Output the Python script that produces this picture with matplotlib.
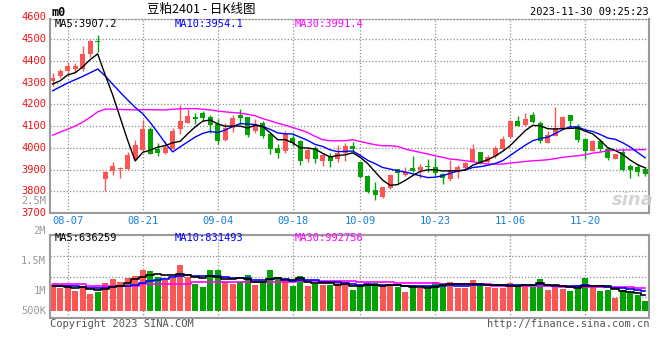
import matplotlib
matplotlib.use("Agg")
import matplotlib.pyplot as plt
import numpy as np

# trading days shown on the chart
dates = ["08-03", "08-04",
         "08-07", "08-08", "08-09", "08-10", "08-11",
         "08-14", "08-15", "08-16", "08-17", "08-18",
         "08-21", "08-22", "08-23", "08-24", "08-25",
         "08-28", "08-29", "08-30", "08-31", "09-01",
         "09-04", "09-05", "09-06", "09-07", "09-08",
         "09-11", "09-12", "09-13", "09-14", "09-15",
         "09-18", "09-19", "09-20", "09-21", "09-22",
         "09-25", "09-26", "09-27", "09-28",
         "10-09", "10-10", "10-11", "10-12", "10-13",
         "10-16", "10-17", "10-18", "10-19", "10-20",
         "10-23", "10-24", "10-25", "10-26", "10-27",
         "10-30", "10-31", "11-01", "11-02", "11-03",
         "11-06", "11-07", "11-08", "11-09", "11-10",
         "11-13", "11-14", "11-15", "11-16", "11-17",
         "11-20", "11-21", "11-22", "11-23", "11-24",
         "11-27", "11-28", "11-29", "11-30"]
date_labels = ["08-07", "08-21", "09-04", "09-18", "10-09", "10-23", "11-06", "11-20"]

opens = [4305, 4332, 4351, 4364, 4363, 4430, 4489, 3858, 3893, 3903,
         3901, 3947, 3988, 4087, 3993, 3975, 3994, 4085, 4116, 4140,
         4160, 4140, 4108, 4035, 4089, 4150, 4140, 4078, 4113, 4063,
         3998, 3986, 4043, 4031, 3948, 3998, 3940, 3960, 3948, 3976,
         4006, 3933, 3872, 3806, 3773, 3815, 3902, 3875, 3905, 3899,
         3918, 3911, 3879, 3857, 3887, 3907, 3940, 3982, 3936, 3960,
         3994, 4050, 4124, 4104, 4150, 4116, 4024, 4055, 4089, 4150,
         4101, 4040, 3986, 4029, 3994, 3948, 3982, 3915, 3911, 3902]
highs = [4343, 4363, 4393, 4389, 4470, 4497, 4518, 3893, 3935, 3913,
         3982, 4034, 4126, 4095, 4022, 4029, 4093, 4195, 4177, 4159,
         4169, 4150, 4131, 4113, 4150, 4177, 4140, 4134, 4124, 4070,
         4017, 4075, 4070, 4035, 4002, 4009, 3976, 3976, 4012, 4021,
         4027, 3935, 3875, 3841, 3821, 3879, 3904, 3913, 3960, 3925,
         3948, 3953, 3882, 3944, 3921, 3933, 4017, 3982, 3966, 4009,
         4052, 4126, 4147, 4159, 4165, 4125, 4078, 4189, 4147, 4150,
         4108, 4040, 4037, 4040, 4002, 3971, 3994, 3925, 3925, 3910]
lows = [4282, 4320, 4335, 4348, 4354, 4415, 4442, 3800, 3875, 3863,
        3899, 3942, 3985, 3970, 3960, 3972, 3994, 4063, 4113, 4108,
        4124, 4070, 4017, 4032, 4073, 4108, 4050, 4066, 4043, 3971,
        3951, 3977, 4009, 3922, 3933, 3930, 3915, 3910, 3936, 3940,
        3986, 3860, 3792, 3762, 3769, 3811, 3838, 3869, 3887, 3860,
        3890, 3872, 3834, 3849, 3861, 3902, 3937, 3924, 3930, 3951,
        3989, 4047, 4101, 4101, 4116, 4021, 4024, 4052, 4089, 4096,
        4027, 3948, 3986, 3986, 3944, 3948, 3895, 3861, 3869, 3869]
closes = [4323, 4354, 4377, 4375, 4430, 4491, 4486, 3889, 3918, 3907,
          3968, 4014, 4087, 3970, 3974, 4005, 4078, 4121, 4144, 4131,
          4137, 4105, 4032, 4089, 4136, 4136, 4060, 4098, 4055, 3995,
          3976, 4063, 4024, 3940, 3991, 3948, 3968, 3940, 3976, 4006,
          3994, 3864, 3795, 3783, 3818, 3875, 3884, 3889, 3895, 3913,
          3911, 3884, 3863, 3898, 3913, 3930, 3994, 3928, 3959, 3998,
          4040, 4124, 4101, 4131, 4119, 4029, 4058, 4093, 4142, 4124,
          4035, 3986, 4032, 3994, 3953, 3971, 3899, 3899, 3887, 3881]

ma5 = [4293, 4308, 4335, 4345, 4371.8, 4405.4, 4431.8, 4334.2, 4242.8, 4138.2,
       4033.6, 3939.2, 3978.8, 3989.2, 4002.6, 4010, 4022.8, 4029.6, 4064.4, 4095.8,
       4122.2, 4127.6, 4109.8, 4098.8, 4099.8, 4099.6, 4090.6, 4103.8, 4097, 4068.8,
       4036.8, 4037.4, 4022.6, 3999.6, 3998.8, 3993.2, 3974.2, 3957.4, 3964.6, 3967.6,
       3976.8, 3956, 3927, 3888.4, 3850.8, 3827, 3831, 3849.8, 3872.2, 3891.2,
       3898.4, 3898.4, 3893.2, 3893.8, 3893.8, 3897.6, 3919.6, 3932.6, 3944.8, 3961.8,
       3983.8, 4009.8, 4044.4, 4078.8, 4103, 4100.8, 4087.6, 4086, 4088.2, 4089.2,
       4090.4, 4076, 4063.8, 4034.2, 4000, 3987.2, 3969.8, 3943.2, 3921.8, 3907.4]
ma10 = [4262, 4280, 4298, 4313, 4328, 4345, 4362, 4330, 4292, 4255,
        4219.5, 4185.5, 4156.5, 4116, 4070.4, 4021.8, 3981, 4004.2, 4026.8, 4049.2,
        4066.1, 4075.2, 4069.7, 4081.6, 4097.8, 4110.9, 4109.1, 4106.8, 4097.9, 4084.3,
        4068.2, 4064, 4063.2, 4048.3, 4033.8, 4015, 4005.8, 3990, 3982.1, 3983.2,
        3985, 3965.1, 3942.2, 3926.5, 3909.2, 3901.9, 3893.5, 3888.4, 3880.3, 3871,
        3862.7, 3864.7, 3871.5, 3883, 3892.5, 3898, 3909, 3912.9, 3919.3, 3927.8,
        3940.7, 3964.7, 3988.5, 4011.8, 4032.4, 4042.3, 4048.7, 4065.2, 4083.5, 4096.1,
        4095.6, 4081.8, 4074.9, 4061.2, 4044.6, 4038.8, 4022.9, 4003.5, 3978, 3953.7]
ma30 = [4058, 4072, 4085, 4100, 4118, 4140, 4165, 4178, 4177, 4176,
        4175, 4174, 4175, 4175, 4174, 4174, 4177, 4179, 4180, 4180,
        4177, 4174, 4169, 4165, 4162, 4159, 4154, 4147, 4134, 4124,
        4113, 4104, 4093, 4082, 4070, 4052, 4037, 4032, 4032, 4032,
        4037, 4029, 4021, 4014, 4009, 4009, 4006, 3994, 3986, 3979,
        3971, 3963, 3956, 3948, 3945, 3940, 3936, 3930, 3925, 3925,
        3925, 3930, 3933, 3937, 3940, 3942, 3945, 3950, 3956, 3960,
        3963, 3968, 3975, 3980, 3986, 3988, 3990, 3990, 3991, 3991.4]

# volume, in millions of the panel's own scale
volume = [1.111, 1.050, 1.089, 1.000, 1.067, 0.944, 0.983, 1.133, 1.194, 1.150,
          1.211, 1.250, 1.344, 1.328, 1.233, 1.178, 1.211, 1.428, 1.233, 1.111,
          1.067, 1.344, 1.344, 1.150, 1.111, 1.139, 1.261, 1.094, 1.139, 1.344,
          1.189, 1.161, 1.078, 1.250, 1.078, 1.111, 1.089, 1.094, 1.122, 1.111,
          1.011, 1.078, 1.111, 1.133, 1.078, 1.111, 1.067, 0.983, 1.089, 1.039,
          1.078, 1.150, 1.133, 1.150, 1.050, 1.050, 1.178, 1.111, 1.067, 1.050,
          1.050, 1.133, 1.094, 1.111, 1.067, 1.194, 1.011, 1.067, 1.028, 1.000,
          1.094, 1.217, 1.067, 1.000, 1.011, 0.883, 1.011, 0.983, 0.928, 0.828]
vol_ma5 = [1.083, 1.078, 1.067, 1.050, 1.063, 1.030, 1.017, 1.025, 1.064, 1.081,
           1.134, 1.188, 1.230, 1.257, 1.273, 1.267, 1.259, 1.276, 1.257, 1.232,
           1.210, 1.237, 1.220, 1.203, 1.203, 1.218, 1.201, 1.151, 1.149, 1.195,
           1.205, 1.185, 1.182, 1.204, 1.151, 1.136, 1.121, 1.124, 1.099, 1.105,
           1.085, 1.083, 1.087, 1.089, 1.082, 1.102, 1.100, 1.074, 1.066, 1.058,
           1.051, 1.068, 1.098, 1.110, 1.112, 1.107, 1.112, 1.108, 1.091, 1.091,
           1.091, 1.082, 1.079, 1.088, 1.091, 1.120, 1.095, 1.090, 1.073, 1.060,
           1.040, 1.081, 1.081, 1.076, 1.078, 1.036, 0.994, 0.978, 0.963, 0.927]
vol_ma10 = [1.085, 1.083, 1.080, 1.075, 1.060, 1.045, 1.040, 1.045, 1.060, 1.072,
            1.082, 1.102, 1.128, 1.160, 1.177, 1.200, 1.223, 1.253, 1.257, 1.253,
            1.238, 1.248, 1.248, 1.230, 1.218, 1.214, 1.219, 1.185, 1.176, 1.199,
            1.212, 1.193, 1.167, 1.177, 1.173, 1.171, 1.153, 1.153, 1.152, 1.128,
            1.111, 1.102, 1.106, 1.094, 1.094, 1.094, 1.092, 1.081, 1.077, 1.070,
            1.077, 1.084, 1.086, 1.088, 1.085, 1.079, 1.090, 1.103, 1.101, 1.102,
            1.099, 1.097, 1.093, 1.089, 1.091, 1.106, 1.089, 1.084, 1.081, 1.076,
            1.080, 1.088, 1.086, 1.075, 1.069, 1.038, 1.038, 1.029, 1.019, 1.002]
vol_ma30 = [1.111, 1.111, 1.111, 1.111, 1.111, 1.083, 1.083, 1.083, 1.083, 1.083,
            1.083, 1.083, 1.111, 1.111, 1.111, 1.111, 1.111, 1.111, 1.111, 1.139,
            1.139, 1.139, 1.139, 1.139, 1.139, 1.139, 1.139, 1.150, 1.150, 1.150,
            1.150, 1.150, 1.150, 1.167, 1.167, 1.167, 1.167, 1.167, 1.167, 1.167,
            1.167, 1.150, 1.150, 1.150, 1.150, 1.150, 1.122, 1.122, 1.122, 1.122,
            1.122, 1.122, 1.106, 1.106, 1.106, 1.106, 1.106, 1.106, 1.106, 1.078,
            1.078, 1.078, 1.078, 1.078, 1.078, 1.078, 1.078, 1.078, 1.067, 1.067,
            1.067, 1.067, 1.067, 1.067, 1.067, 1.067, 1.067, 1.067, 1.050, 1.039]

price_ticks = [3700, 3800, 3900, 4000, 4100, 4200, 4300, 4400, 4500, 4600]
vol_ticks = [(2.0, "2M"), (1.5, "1.5M"), (1.0, "1M")]

RED = "#fa5656"
GREEN = "#02a302"
GRID = "#8e8e8e"
FRAME = "#9a9a9a"
DOTS = (0, (1, 1.6))
MONO = "DejaVu Sans Mono"
CJK = ["Noto Sans CJK SC", "DejaVu Sans"]

W, H = 660, 360
fig = plt.figure(figsize=(W / 100, H / 100), dpi=100)


def box(x0, y0, x1, y1):
    # pixel box (top-left origin) -> figure fraction rect
    return [x0 / W, 1 - y1 / H, (x1 - x0) / W, (y1 - y0) / H]


ax = fig.add_axes(box(50, 19, 649, 213))
axv = fig.add_axes(box(50, 234.7, 649, 318.3), sharex=ax)

x = np.arange(len(dates))
o = np.array(opens, float)
c = np.array(closes, float)
up = c >= o
colors = np.where(up, RED, GREEN)

# candles
ax.vlines(x, lows, highs, colors=colors, lw=1, zorder=2)
ax.bar(x, np.maximum(np.abs(c - o), 4), bottom=np.minimum(o, c), width=0.72,
       color=colors, linewidth=0, zorder=2)
ax.plot(x, ma30, color="#ff00ff", lw=1, zorder=3)
ax.plot(x, ma10, color="#0000ff", lw=1, zorder=3)
ax.plot(x, ma5, color="#000000", lw=1, zorder=3)

ax.set_xlim(-0.36, 79.5)
ax.set_ylim(3700, 4592)

# volume
vol_floor = 0.667
vol = np.array(volume)
axv.bar(x, vol - vol_floor, bottom=vol_floor, width=0.8, color=colors,
        linewidth=0, zorder=2)
axv.plot(x, vol_ma30, color="#ff00ff", lw=1.2, drawstyle="steps-mid", zorder=3)
axv.plot(x, vol_ma10, color="#0000ff", lw=1.2, drawstyle="steps-mid", zorder=3)
axv.plot(x, vol_ma5, color="#000000", lw=1.2, drawstyle="steps-mid", zorder=3)
axv.set_ylim(0.54, 1.933)

grid_x = [dates.index(d) for d in date_labels]
for a in (ax, axv):
    for gx in grid_x:
        a.axvline(gx, color=GRID, lw=0.9, ls=DOTS, zorder=1)
    a.set_xticks([])
    a.set_yticks([])
    for side in ("left", "right", "bottom", "top"):
        a.spines[side].set_color(FRAME)
        a.spines[side].set_linewidth(1.5)

ax.spines["top"].set_linestyle(DOTS)
ax.spines["top"].set_linewidth(0.9)
ax.spines["top"].set_color(GRID)
for p in price_ticks[1:-1]:
    ax.axhline(p, color=GRID, lw=0.9, ls=DOTS, zorder=1)
for f in (0.25, 0.5, 0.75):
    axv.axhline(0.54 + f * (1.933 - 0.54), color=GRID, lw=0.9, ls=DOTS, zorder=1)

# axis labels
for p in price_ticks:
    ax.text(-0.0065, p, str(p), transform=ax.get_yaxis_transform(), ha="right",
            va="center", color="#ee1111", fontsize=7.5, family=MONO, clip_on=False)
ax.text(-0.0065, 0.063, "2.5M", transform=ax.transAxes, ha="right", va="center",
        color="#999999", fontsize=7.5, family=MONO)
for v, lab in vol_ticks:
    axv.text(-0.0065, v, lab, transform=axv.get_yaxis_transform(), ha="right",
             va="center", color="#999999", fontsize=7.5, family=MONO, clip_on=False)
axv.text(-0.0065, vol_floor, "500K", transform=axv.get_yaxis_transform(), ha="right",
         va="center", color="#999999", fontsize=7.5, family=MONO)
for gx, lab in zip(grid_x, date_labels):
    ax.text(gx, -0.04, lab, transform=ax.get_xaxis_transform(), ha="center",
            va="center", color="#1a80d8", fontsize=7.5, family=MONO)

# header texts
fig.text(51 / W, 1 - 12 / H, "m0", fontsize=8.5, family=MONO, weight="bold",
         va="center")
fig.text(201 / W, 1 - 9 / H, "豆粕2401 - 日K线图", fontsize=9, family=CJK,
         ha="center", va="center")
fig.text(649 / W, 1 - 12 / H, "2023-11-30 09:25:23", fontsize=7.5, family=MONO,
         ha="right", va="center")

ax.text(55 / W, 1 - 24 / H, "MA5:3907.2", transform=fig.transFigure, fontsize=7.5,
        family=MONO, color="#000000", va="center")
ax.text(175 / W, 1 - 24 / H, "MA10:3954.1", transform=fig.transFigure, fontsize=7.5,
        family=MONO, color="#0000ff", va="center")
ax.text(295 / W, 1 - 24 / H, "MA30:3991.4", transform=fig.transFigure, fontsize=7.5,
        family=MONO, color="#ff00ff", va="center")
fig.text(55 / W, 1 - 238 / H, "MA5:636259", fontsize=7.5, family=MONO,
         color="#000000", va="center")
fig.text(175 / W, 1 - 238 / H, "MA10:831493", fontsize=7.5, family=MONO,
         color="#0000ff", va="center")
fig.text(295 / W, 1 - 238 / H, "MA30:992756", fontsize=7.5, family=MONO,
         color="#ff00ff", va="center")

fig.text(50 / W, 1 - 324 / H, "Copyright 2023 SINA.COM", fontsize=7.5, family=MONO,
         color="#555555", va="center")
fig.text(649 / W, 1 - 324 / H, "http://finance.sina.com.cn", fontsize=7.5,
         family=MONO, color="#555555", ha="right", va="center")

# watermark
fig.text(633 / W, 1 - 200 / H, "sina", fontsize=13, style="italic", weight="bold",
         color="#cccccc", ha="center", va="center", alpha=0.85)

fig.savefig("out.png", dpi=100)
